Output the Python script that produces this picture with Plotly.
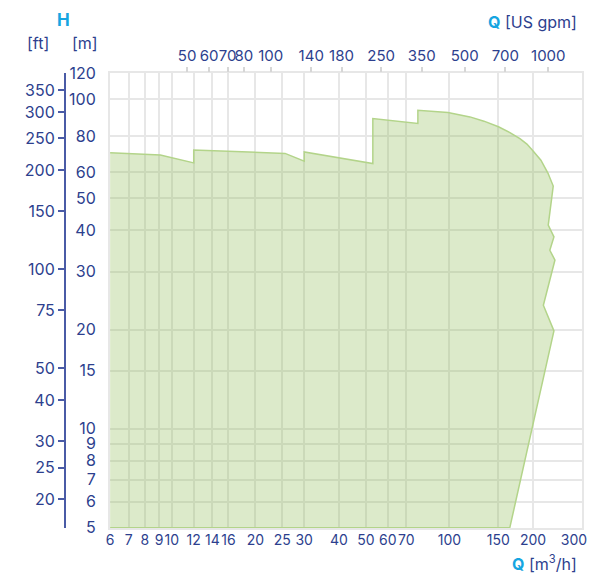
import numpy as np
import plotly.graph_objects as go

# operating envelope, flow in m3/h and head in m
q_envelope = [6, 9.1, 12, 12, 25.6, 30, 30, 53, 53, 77, 77, 88.7, 98.8, 118.6,
              133.2, 150.2, 165.2, 179.5, 190.2, 199.9, 213.6, 226.4, 236.6,
              227, 238, 230, 240, 218, 238, 165, 6]
h_envelope = [68.8, 67.7, 64.1, 70.1, 68.5, 64.9, 69.2, 63.8, 87.4, 84.4, 92.6,
              92.0, 91.2, 88.4, 85.8, 82.5, 79.2, 75.9, 73.1, 69.8, 65.3, 59.7,
              54.5, 41.5, 38.2, 34.8, 32.5, 23.7, 19.8, 5, 5]

q_ticks = [6, 7, 8, 9, 10, 12, 14, 16, 20, 25, 30, 40, 50, 60, 70, 100, 150, 200, 300]
# last label nudged left so it stays on the page
q_labels = [str(v) for v in q_ticks[:-1]] + ["300" + "&nbsp;" * 4]
# the "80" grid line sits a little low in the original chart
h_ticks = [5, 6, 7, 8, 9, 10, 15, 20, 30, 40, 50, 60, 77.3, 100, 120]
h_labels = ["5", "6", "7", "8", "9", "10", "15", "20", "30", "40", "50", "60", "80", "100", "120"]
ft_ticks = [20, 25, 30, 40, 50, 75, 100, 150, 200, 250, 300, 350]
gpm_ticks = [50, 60, 70, 80, 100, 140, 180, 250, 350, 500, 700, 1000]

q_range = (6, 300)
h_range = (5, 120)
M3H_TO_GPM = 4.40287
M_TO_FT = 3.28084
EPS = 0.0005  # keeps the end ticks inside the range

navy = "#2d3f8e"
cyan = "#16a5e1"
grid = "#e7e7e7"
font = "Inter, Noto Sans, sans-serif"

# the page body adds an 8px margin, so lay out in a slightly smaller box
OFF = 8
W, H = 595 - OFF, 574 - OFF
ML, MR, MT, MB = 40 - OFF, 13, 73 - OFF, 46
plot_w = W - ML - MR
plot_h = H - MT - MB


def px(x):
    return (x - OFF - ML) / plot_w


def py(y):
    return (H - MB - (y - OFF)) / plot_h


figure = go.Figure()

figure.add_trace(
    go.Scatter(
        x=q_envelope,
        y=h_envelope,
        fill="toself",
        fillcolor="rgba(140,185,80,0.30)",
        line={"color": "#b3d48a", "width": 1.5},
        mode="lines",
        hoverinfo="skip",
        showlegend=False,
    )
)

# empty trace so the secondary (ft / gpm) axes get drawn
figure.add_trace(
    go.Scatter(x=[None], y=[None], xaxis="x2", yaxis="y2", showlegend=False,
               hoverinfo="skip")
)

tickfont = {"family": font, "size": 15, "color": navy}

figure.update_layout(
    width=W,
    height=H,
    margin={"l": ML, "r": MR, "t": MT, "b": MB},
    paper_bgcolor="white",
    plot_bgcolor="white",
    showlegend=False,
    xaxis={
        "type": "log",
        "domain": [px(110), 1],
        "range": [np.log10(q_range[0]) - EPS, np.log10(q_range[1]) + EPS],
        "tickvals": q_ticks,
        "ticktext": q_labels,
        "tickfont": {**tickfont, "size": 14},
        "tickangle": 0,
        "automargin": False,
        "ticklabeloverflow": "allow",
        "gridcolor": grid,
        "gridwidth": 1.5,
        "showline": True,
        "linecolor": grid,
        "linewidth": 2,
        "mirror": True,
        "ticks": "",
        "ticklabelstandoff": -2,
        "zeroline": False,
        "anchor": "y",
    },
    xaxis2={
        "type": "log",
        "overlaying": "x",
        "side": "top",
        "anchor": "y",
        "range": [np.log10(q_range[0] * M3H_TO_GPM) - EPS,
                  np.log10(q_range[1] * M3H_TO_GPM) + EPS],
        "tickvals": gpm_ticks,
        "ticktext": [str(v) for v in gpm_ticks],
        "tickfont": tickfont,
        "tickangle": 0,
        "automargin": False,
        "ticklabeloverflow": "allow",
        "showgrid": False,
        "ticks": "outside",
        "ticklen": 5,
        "tickcolor": "#d6d6d6",
        "tickwidth": 1.5,
        "zeroline": False,
    },
    yaxis={
        "type": "log",
        "range": [np.log10(h_range[0]) - EPS, np.log10(h_range[1]) + EPS],
        "tickvals": h_ticks,
        "ticktext": h_labels,
        "tickfont": {**tickfont, "size": 16},
        "automargin": False,
        "ticklabeloverflow": "allow",
        "gridcolor": grid,
        "gridwidth": 1.5,
        "showline": True,
        "linecolor": grid,
        "linewidth": 2,
        "mirror": True,
        "ticks": "",
        "ticklabelstandoff": 9,
        "zeroline": False,
        "anchor": "x",
    },
    yaxis2={
        "type": "log",
        "overlaying": "y",
        "side": "left",
        "anchor": "free",
        "position": px(65),
        "range": [np.log10(h_range[0] * M_TO_FT) - EPS,
                  np.log10(h_range[1] * M_TO_FT) + EPS],
        "tickvals": ft_ticks,
        "ticktext": [str(v) for v in ft_ticks],
        "tickfont": {**tickfont, "size": 16},
        "automargin": False,
        "ticklabeloverflow": "allow",
        "showgrid": False,
        "showline": True,
        "linecolor": "#4a5ba6",
        "linewidth": 2,
        "ticks": "outside",
        "ticklen": 6,
        "tickcolor": "#4a5ba6",
        "tickwidth": 1.5,
        "zeroline": False,
    },
)

labels = [
    (63, 20, "<b>H</b>", "center", cyan, 17),
    (38, 43, "[ft]", "center", navy, 16),
    (85, 43, "[m]", "center", navy, 16),
    (579, 22, "<b><span style='color:%s'>Q</span></b> [US gpm]" % cyan, "right", navy, 16),
    (579, 563, "<b><span style='color:%s'>Q</span></b> [m<sup>3</sup>/h]" % cyan, "right", navy, 16),
]
for x, y, text, align, color, size in labels:
    figure.add_annotation(
        x=px(x), y=py(y), xref="paper", yref="paper",
        text=text, showarrow=False,
        xanchor=align, yanchor="middle",
        font={"family": font, "size": size, "color": color},
    )

figure.write_html("out.html")
